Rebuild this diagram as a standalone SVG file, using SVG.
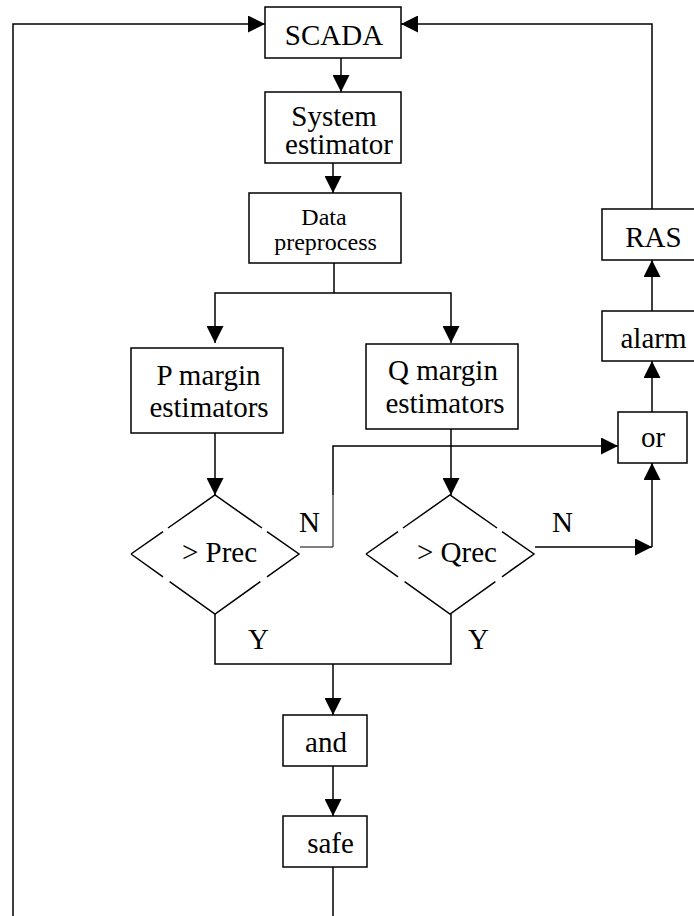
<svg xmlns="http://www.w3.org/2000/svg" width="694" height="916" viewBox="0 0 694 916">
<style>
.box{fill:#fff;stroke:#000;stroke-width:1.5}
.ln{fill:none;stroke:#000;stroke-width:1.5}
.thin{fill:none;stroke:#000;stroke-width:1}
.arr{fill:none;stroke:#000;stroke-width:1.5;marker-end:url(#ah)}
text{font-family:"Liberation Serif","Times New Roman",serif;font-size:29px;fill:#000;text-anchor:middle}
.small{font-size:24px}
.st{text-anchor:start}
</style>
<defs>
<marker id="ah" viewBox="0 0 17 17" refX="17" refY="8.5" markerWidth="17" markerHeight="17" markerUnits="userSpaceOnUse" orient="auto">
<path d="M0,0 L17,8.5 L0,17 z" fill="#000"/>
</marker>
</defs>
<g id="connectors">
<polyline class="arr" points="13,916 13,24 265,24"/>
<polyline class="arr" points="652,209 652,24 401,24"/>
<line class="arr" x1="341" y1="58" x2="341" y2="92"/>
<line class="arr" x1="333" y1="163" x2="333" y2="193"/>
<line class="ln" x1="334" y1="263" x2="334" y2="293"/>
<polyline class="arr" points="334,293 215,293 215,343"/>
<polyline class="arr" points="334,293 451,293 451,343"/>
<line class="arr" x1="215" y1="433" x2="215" y2="495"/>
<line class="arr" x1="451" y1="429" x2="451" y2="495"/>
<polyline class="thin" points="300,547 333,547 333,495"/>
<polyline class="arr" points="333,495 333,446 618,446"/>
<line class="arr" x1="535" y1="547" x2="652" y2="547"/>
<line class="arr" x1="652" y1="547" x2="652" y2="463"/>
<line class="arr" x1="652" y1="412" x2="652" y2="361"/>
<line class="arr" x1="652" y1="311" x2="652" y2="260"/>
<polyline class="ln" points="215,614 215,664 451,664 451,614"/>
<line class="arr" x1="333" y1="664" x2="333" y2="715"/>
<line class="arr" x1="333" y1="766" x2="333" y2="816"/>
<line class="ln" x1="333" y1="867" x2="333" y2="916"/>
</g>
<g id="scada"><rect class="box" x="265" y="7" width="136" height="51"/><text x="334" y="45">SCADA</text></g>
<g id="system-estimator"><rect class="box" x="265" y="92" width="136" height="71"/><text x="334" y="126">System</text><text x="339" y="154">estimator</text></g>
<g id="data-preprocess"><rect class="box" x="249" y="193" width="152" height="70"/><text class="small" x="324" y="225">Data</text><text class="small" x="325.5" y="250">preprocess</text></g>
<g id="p-margin"><rect class="box" x="131" y="348" width="152" height="85"/><text x="208.5" y="385">P margin</text><text x="209" y="417">estimators</text></g>
<g id="q-margin"><rect class="box" x="366" y="344" width="152" height="85"/><text x="443" y="380">Q margin</text><text x="445" y="413">estimators</text></g>
<g id="p-decision">
<path class="ln" d="M131,554 L163,531.6 M168,528 L215,495 L262,528 M267,531.6 L299,554 L267,576.8 M260.4,581.6 L215,614 L169.6,581.6 M163,576.8 L131,554"/>
<text x="219.5" y="562">&gt; Prec</text>
</g>
<g id="q-decision">
<path class="ln" d="M366,554 L398,531.6 M403,528 L450,495 L497,528 M502,531.6 L534,554 L502,576.8 M495.4,581.6 L450,614 L404.6,581.6 M398,576.8 L366,554"/>
<text x="457" y="562">&gt; Qrec</text>
</g>
<g id="labels">
<text class="st" x="299" y="532">N</text>
<text class="st" x="552" y="532">N</text>
<text class="st" x="248" y="649">Y</text>
<text class="st" x="468" y="649">Y</text>
</g>
<g id="or"><rect class="box" x="618" y="412" width="69" height="51"/><text x="653" y="447">or</text></g>
<g id="alarm"><rect class="box" x="602" y="311" width="96" height="50"/><text x="653.5" y="348">alarm</text></g>
<g id="ras"><rect class="box" x="602" y="209" width="96" height="51"/><text x="653.5" y="247">RAS</text></g>
<g id="and"><rect class="box" x="283" y="715" width="84" height="51"/><text x="326" y="752">and</text></g>
<g id="safe"><rect class="box" x="283" y="816" width="84" height="51"/><text x="330.5" y="853">safe</text></g>
</svg>
